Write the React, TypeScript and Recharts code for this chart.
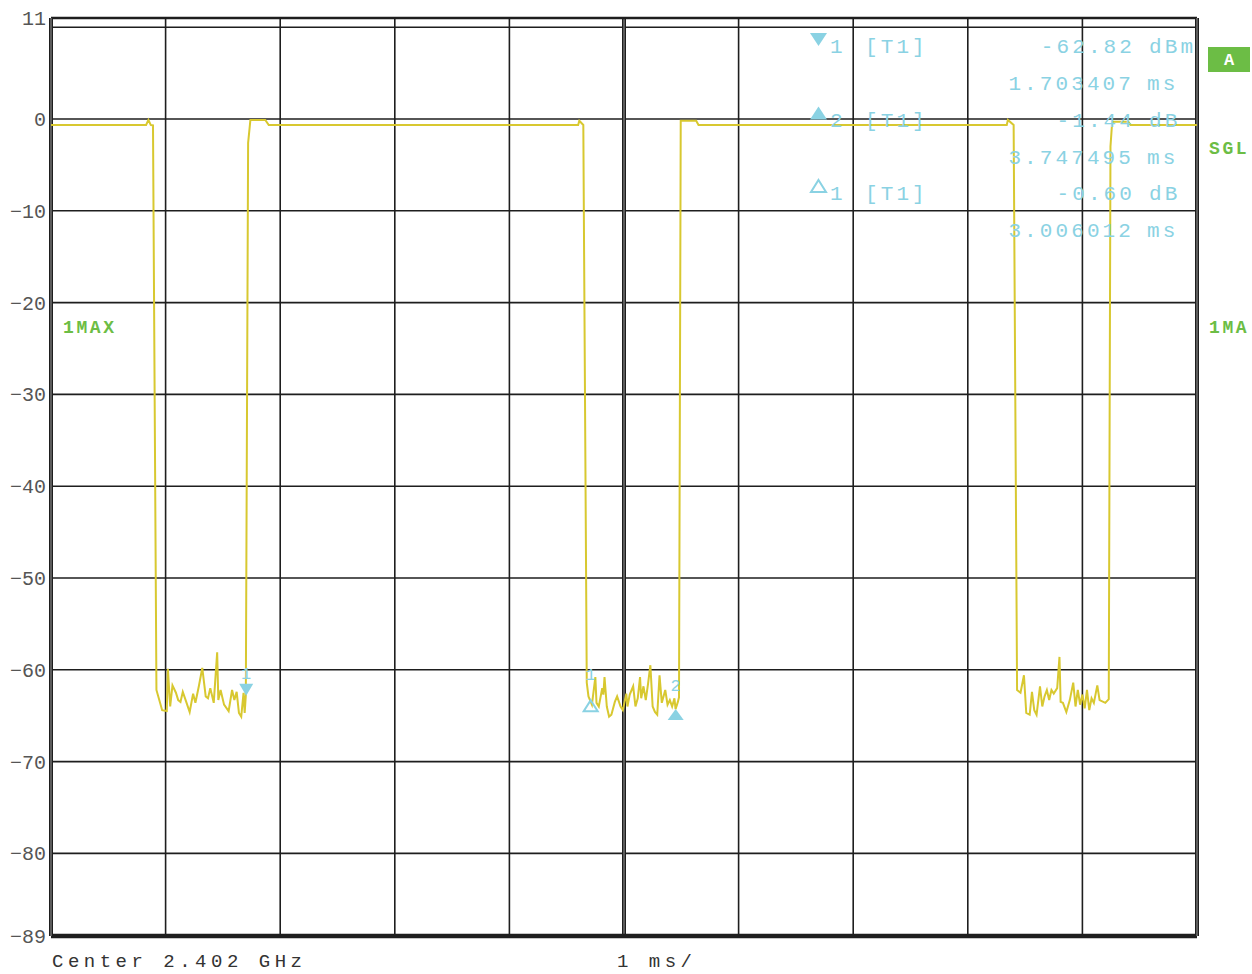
import { LineChart, Line, XAxis, YAxis, ReferenceLine, ReferenceDot } from "recharts";

// trace 1 (max hold), time in ms, level in dBm
const traceTimeMs = [
  0, 0.83, 0.85, 0.87, 0.89, 0.92,
  0.97, 1.01, 1.02, 1.04, 1.06, 1.09, 1.11, 1.13, 1.15, 1.18,
  1.21, 1.24, 1.26, 1.29, 1.32, 1.35, 1.37, 1.39, 1.42, 1.45,
  1.46, 1.48, 1.51, 1.55, 1.58, 1.6, 1.62, 1.64, 1.66, 1.68,
  1.69, 1.7,
  1.72, 1.74, 1.87, 1.9,
  4.6, 4.61, 4.645, 4.675,
  4.69, 4.72, 4.75, 4.76, 4.78, 4.81, 4.82, 4.83, 4.85, 4.87,
  4.89, 4.92, 4.94, 4.97, 4.99, 5.02, 5.03, 5.05, 5.08, 5.1,
  5.12, 5.14, 5.15, 5.17, 5.19, 5.21, 5.23, 5.25, 5.27, 5.29,
  5.31, 5.33, 5.36, 5.38, 5.4, 5.42, 5.44, 5.45, 5.47, 5.48,
  5.495, 5.63, 5.65,
  8.34, 8.35, 8.4, 8.43,
  8.46, 8.49, 8.51, 8.54, 8.56, 8.58, 8.6, 8.63, 8.65, 8.67,
  8.69, 8.71, 8.73, 8.75, 8.78, 8.8, 8.81, 8.83, 8.86, 8.89,
  8.92, 8.94, 8.96, 8.98, 9.0, 9.02, 9.04, 9.06, 9.08, 9.1,
  9.13, 9.15, 9.2, 9.23,
  9.245, 9.26, 9.4, 9.42, 10,
];
const traceLevelDb = [
  -0.65, -0.65, -0.1, -0.65, -0.7, -62.2,
  -64.4, -64.5, -59.9, -64.0, -61.7, -62.5, -63.3, -63.5, -62.4, -63.5,
  -64.6, -62.6, -63.6, -61.8, -59.8, -62.9, -63.1, -62.0, -63.6, -58.1,
  -63.3, -62.2, -63.8, -64.5, -62.2, -63.3, -62.4, -64.7, -65.1, -62.5,
  -64.7, -62.8,
  -2.6, -0.1, -0.1, -0.65,
  -0.65, -0.2, -0.65, -61.4,
  -62.9, -63.8, -60.8, -63.6, -64.0, -62.0, -62.7, -60.8, -64.0, -65.1,
  -64.9, -63.5, -62.9, -64.0, -64.4, -62.6, -64.0, -62.7, -61.8, -64.0,
  -63.1, -60.8, -63.1, -61.8, -63.3, -61.5, -59.5, -64.0, -64.6, -64.9,
  -60.6, -63.6, -62.2, -63.8, -63.3, -64.0, -63.1, -64.3, -63.5, -63.0,
  -0.2, -0.2, -0.65,
  -0.65, -0.1, -0.65, -62.2,
  -62.5, -60.6, -64.7, -64.9, -62.4, -64.4, -64.9, -61.8, -64.0, -62.9,
  -62.2, -63.3, -62.2, -62.6, -62.0, -58.6, -63.5, -63.6, -64.6, -63.3,
  -61.4, -64.0, -62.2, -63.8, -62.7, -64.2, -62.2, -64.4, -63.1, -63.6,
  -61.7, -63.3, -63.6, -63.2,
  -3.0, -0.3, -0.3, -0.65, -0.65,
];

const yTicks = [11, 0, -10, -20, -30, -40, -50, -60, -70, -80, -89];
const gridLevels = [10, 0, -10, -20, -30, -40, -50, -60, -70, -80];
const gridTimes = [1, 2, 3, 4, 6, 7, 8, 9];

// marker 1 is absolute, the others are deltas to marker 1
const markerNames = ["1", "2", "1"];
const markerKinds = ["down", "up", "hollow"];
const markerTimesMs = [1.703407, 3.747495, 3.006012];
const markerLevels = [-62.82, -1.44, -0.6];
const markerUnits = ["dBm", "dB", "dB"];

const TRACE = "#d8c830";
const MARK = "#8ad2e3";
const GREEN = "#6cbd45";
const GRID = "#1e1e1e";
const MONO = "'Liberation Mono', 'DejaVu Sans Mono', monospace";

const data = traceTimeMs.map((t, i) => ({ t, v: traceLevelDb[i] }));

const markerPoints = markerTimesMs.map((t, i) =>
  i === 0
    ? { t, v: markerLevels[0] }
    : { t: markerTimesMs[0] + t, v: markerLevels[0] + markerLevels[i] }
);

function markerShape(kind: string, name: string) {
  return (p: any) => {
    const { cx, cy } = p;
    const label = (dy: number) => (
      <text x={cx} y={cy + dy} textAnchor="middle" fill={MARK} fontSize={17} fontFamily={MONO}>
        {name}
      </text>
    );
    if (kind === "down") {
      return (
        <g>
          <path d={`M${cx - 7},${cy - 12}L${cx + 7},${cy - 12}L${cx},${cy}Z`} fill={MARK} />
          {label(-17)}
        </g>
      );
    }
    if (kind === "up") {
      return (
        <g>
          <path d={`M${cx},${cy}L${cx + 8},${cy + 11}L${cx - 8},${cy + 11}Z`} fill={MARK} />
          {label(-18)}
        </g>
      );
    }
    return (
      <g>
        <path d={`M${cx},${cy - 1}L${cx + 7},${cy + 10}L${cx - 7},${cy + 10}Z`} fill="none" stroke={MARK} strokeWidth={2} />
        {label(-21)}
      </g>
    );
  };
}

function readoutSymbol(kind: string, y: number) {
  if (kind === "down") return <path d={`M810,${y}L827,${y}L818.5,${y + 13}Z`} fill={MARK} />;
  if (kind === "up") return <path d={`M818.5,${y}L827,${y + 13}L810,${y + 13}Z`} fill={MARK} />;
  return <path d={`M818.5,${y}L826,${y + 12}L811,${y + 12}Z`} fill="none" stroke={MARK} strokeWidth={2} />;
}

const rowText = { fill: MARK, fontSize: 21, fontFamily: MONO, letterSpacing: 3.1 };
const footText = { fill: "#333", fontSize: 19, fontFamily: MONO, letterSpacing: 4.5 };

export default function App() {
  return (
    <div style={{ position: "absolute", left: 0, top: 0, width: 1252, height: 974, background: "#fff" }}>
      <LineChart width={1252} height={974} data={data} margin={{ top: 18, right: 55, bottom: 38, left: 0 }}>
        <XAxis type="number" dataKey="t" domain={[0, 10]} hide allowDataOverflow />
        <YAxis
          type="number"
          domain={[-89, 11]}
          ticks={yTicks}
          interval={0}
          allowDataOverflow
          width={51}
          tickLine={false}
          axisLine={false}
          tickSize={0}
          tickMargin={5}
          tick={{ fill: "#555", fontSize: 20, fontFamily: MONO }}
          tickFormatter={(v: number) => String(v).replace("-", "\u2212")}
        />
        {gridLevels.map((g) => (
          <ReferenceLine key={"h" + g} y={g} stroke={GRID} strokeWidth={1.6} />
        ))}
        {gridTimes.map((g) => (
          <ReferenceLine key={"v" + g} x={g} stroke={GRID} strokeWidth={1.6} />
        ))}
        <ReferenceLine x={5} stroke={GRID} strokeWidth={4} />
        <ReferenceLine x={5} stroke="#9a9a9a" strokeWidth={1} />
        <ReferenceLine y={11} stroke={GRID} strokeWidth={2.5} />
        <ReferenceLine y={-89} stroke={GRID} strokeWidth={4.5} />
        <ReferenceLine x={0} stroke={GRID} strokeWidth={4} />
        <ReferenceLine x={0} stroke="#9a9a9a" strokeWidth={1} />
        <ReferenceLine x={10} stroke={GRID} strokeWidth={4} />
        <ReferenceLine x={10} stroke="#9a9a9a" strokeWidth={1} />
        <Line type="linear" dataKey="v" stroke={TRACE} strokeWidth={2} dot={false} isAnimationActive={false} />
        {markerPoints.map((m, i) => (
          <ReferenceDot key={"m" + i} x={m.t} y={m.v} r={6} shape={markerShape(markerKinds[i], markerNames[i])} />
        ))}
      </LineChart>
      <svg width={1252} height={974} style={{ position: "absolute", left: 0, top: 0, pointerEvents: "none" }}>
        {markerNames.map((name, i) => {
          const y0 = 53 + i * 73.5;
          return (
            <g key={"r" + i}>
              {readoutSymbol(markerKinds[i], y0 - 20)}
              <text x={830} y={y0} {...rowText}>{name}</text>
              <text x={865} y={y0} {...rowText}>[T1]</text>
              <text x={1135} y={y0} textAnchor="end" {...rowText}>{markerLevels[i].toFixed(2)}</text>
              <text x={1149} y={y0} {...rowText}>{markerUnits[i]}</text>
              <text x={1134} y={y0 + 37} textAnchor="end" {...rowText}>{markerTimesMs[i].toFixed(6)}</text>
              <text x={1147} y={y0 + 37} {...rowText}>ms</text>
            </g>
          );
        })}
        <rect x={1208} y={47} width={42} height={25} fill={GREEN} />
        <text x={1229} y={65} textAnchor="middle" fill="#fff" fontSize={17} fontWeight="bold" fontFamily={MONO}>A</text>
        <text x={1209} y={154} fill={GREEN} fontSize={18} fontWeight="bold" fontFamily={MONO} letterSpacing={2.6}>SGL</text>
        <text x={1209} y={333} fill={GREEN} fontSize={18} fontWeight="bold" fontFamily={MONO} letterSpacing={2.6}>1MA</text>
        <text x={63} y={333} fill={GREEN} fontSize={18} fontWeight="bold" fontFamily={MONO} letterSpacing={2.6}>1MAX</text>
        <text x={52} y={967} {...footText}>Center 2.402 GHz</text>
        <text x={617} y={967} {...footText}>1 ms/</text>
      </svg>
    </div>
  );
}
